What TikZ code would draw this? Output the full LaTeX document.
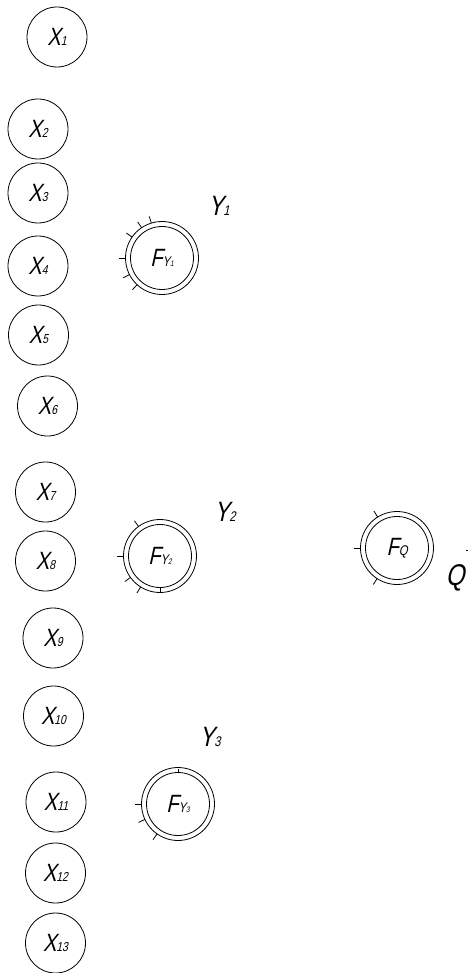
\documentclass[tikz,border=0pt]{standalone}
\usepackage{fontspec}
\newfontfamily\gost{Liberation Sans}[FakeSlant=0.22,FakeStretch=0.8]
\newcommand{\xlab}[1]{{\gost\fontsize{25}{25}\selectfont X{\fontsize{13}{13}\selectfont #1}}}
\newcommand{\flab}[1]{{\gost\fontsize{25}{25}\selectfont F{\fontsize{14}{14}\selectfont #1}}}
\newcommand{\ylab}[1]{{\gost\fontsize{28}{28}\selectfont Y{\fontsize{14}{14}\selectfont #1}}}
\newcommand{\tinysub}[1]{{\fontsize{8}{8}\selectfont #1}}
\tikzset{
  xnode/.style={draw, circle, line width=0.8pt, minimum size=60pt, inner sep=0pt},
  fnode/.style={draw, circle, line width=0.8pt, minimum size=63pt, inner sep=0pt},
  outring/.style={line width=0.8pt},
  tick/.style={line width=0.8pt},
  txt/.style={inner sep=0pt}
}
\begin{document}
\begin{tikzpicture}[x=1pt,y=-1pt]
\useasboundingbox (0,0) rectangle (468,973);
% input nodes
\node[xnode] (x1) at (57,37) {\xlab{1}};
\node[xnode] (x2) at (38,129) {\xlab{2}};
\node[xnode] (x3) at (38,193) {\xlab{3}};
\node[xnode] (x4) at (38,266) {\xlab{4}};
\node[xnode] (x5) at (38.5,335) {\xlab{5}};
\node[xnode] (x6) at (47.5,406) {\xlab{6}};
\node[xnode] (x7) at (45.5,492) {\xlab{7}};
\node[xnode] (x8) at (45.5,561) {\xlab{8}};
\node[xnode] (x9) at (53,638) {\xlab{9}};
\node[xnode] (x10) at (53.5,716) {\xlab{10}};
\node[xnode] (x11) at (56,802) {\xlab{11}};
\node[xnode] (x12) at (55.5,873) {\xlab{12}};
\node[xnode] (x13) at (55.5,943) {\xlab{13}};
% function nodes
\node[fnode] (fy1) at (162,258) {\flab{Y\tinysub{1}}};
\node[fnode] (fy2) at (160,556) {\flab{Y\tinysub{2}}};
\node[fnode] (fq) at (397,548) {\flab{Q}};
\node[fnode] (fy3) at (178,804) {\flab{Y\tinysub{3}}};
\foreach \n in {fy1,fy2,fq,fy3}{
  \draw[outring] (\n.center) circle[radius=36.5];
}
% connector stubs
\foreach \a in {107,124,145,180,207,227}{
  \draw[tick] (fy1.center) ++(-\a:36.5) -- ++(-\a:7);
}
\foreach \a in {126,180,216,238}{
  \draw[tick] (fy2.center) ++(-\a:36.5) -- ++(-\a:7);
}
\draw[tick] (fy2.center) ++(-270:31.5) -- ++(-270:4);
\foreach \a in {122,180,237}{
  \draw[tick] (fq.center) ++(-\a:36.5) -- ++(-\a:7);
}
\foreach \a in {180,205,235}{
  \draw[tick] (fy3.center) ++(-\a:36.5) -- ++(-\a:7);
}
\draw[tick] (fy3.center) ++(-90:31.5) -- ++(-90:4);
% output labels
\node[txt] (ly1) at (219,206) {\ylab{1}};
\node[txt] (ly2) at (225,512) {\ylab{2}};
\node[txt] (ly3) at (210,737) {\ylab{3}};
\node[txt] (lq) at (455,578) {{\gost\fontsize{30}{30}\selectfont Q}};
\coordinate (qd) at (466,550);
\draw[tick] (qd) -- ++(2,0);
\end{tikzpicture}
\end{document}
